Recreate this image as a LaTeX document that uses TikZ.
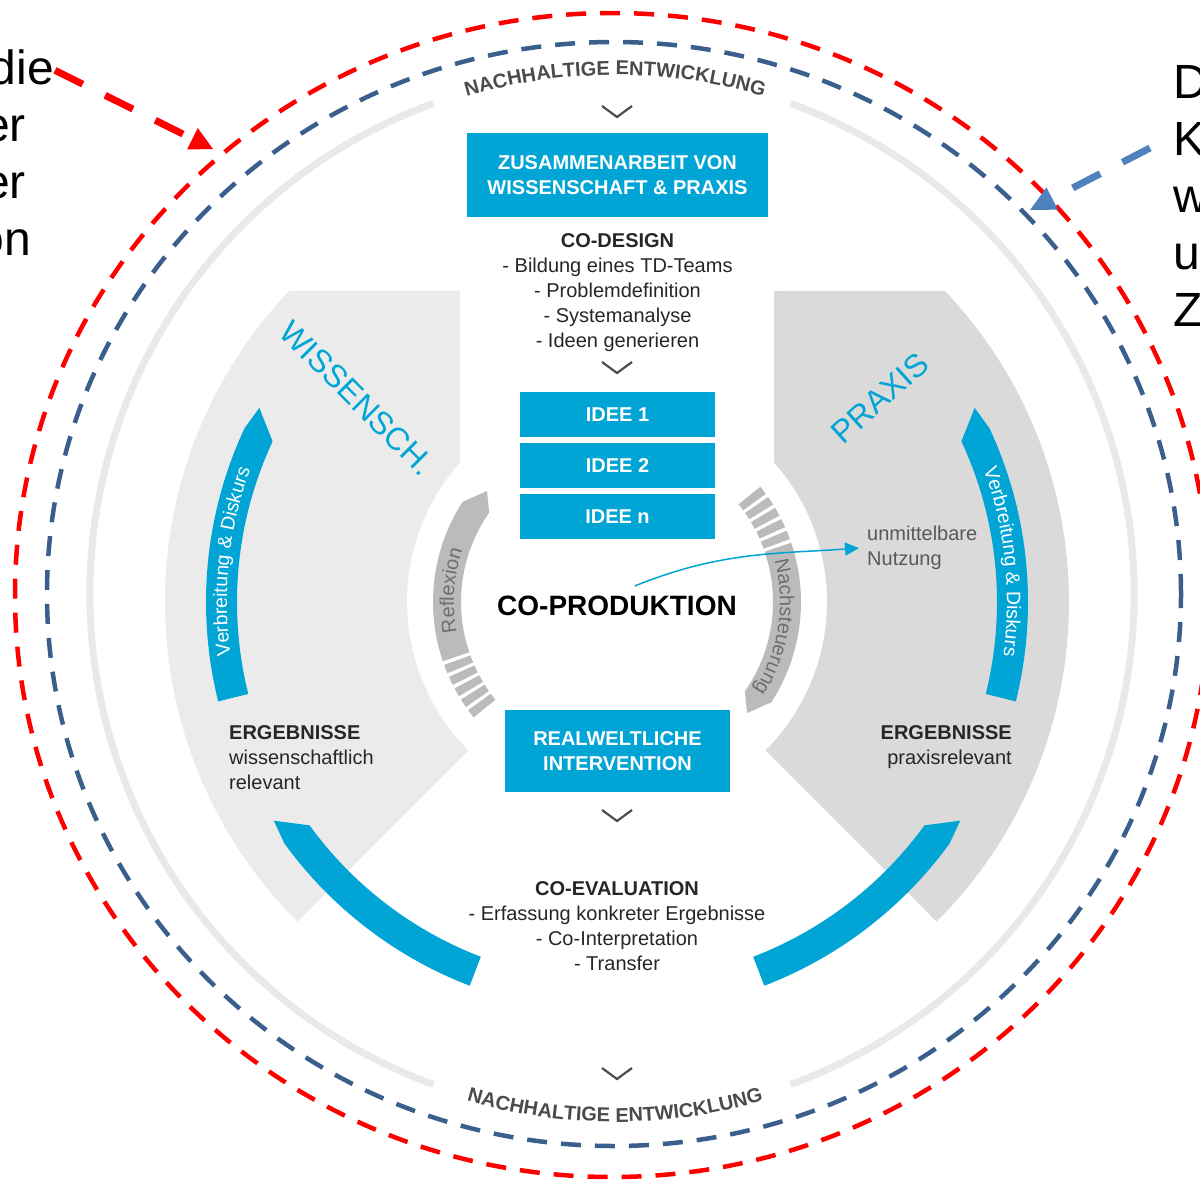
\documentclass[tikz,border=0pt]{standalone}
\usepackage{fontspec}
\setmainfont{Liberation Sans}
\usetikzlibrary{arrows.meta,calc,positioning,decorations.text}

\definecolor{tdblue}{HTML}{00A5D6}
\definecolor{lightreg}{HTML}{EBEBEB}
\definecolor{darkreg}{HTML}{DADADA}
\definecolor{ringgray}{HTML}{E9E9E9}
\definecolor{loopgray}{HTML}{BBBBBB}
\definecolor{loopink}{HTML}{6E6E6E}
\definecolor{txtgray}{HTML}{4B4B4B}
\definecolor{dashred}{HTML}{FF0000}
\definecolor{dashblue}{HTML}{3A5F8C}
\definecolor{pointblue}{HTML}{4F81BD}

\newcommand\setfs[2]{\fontsize{#1}{#2}\selectfont}
% blue band on the ring: start angle, base angle, tip angle
\newcommand\flowarc[3]{\fill[tdblue] (#1:411) arc[start angle=#1, end angle=#2, radius=411]
  -- (#3:407) -- (#2:380) arc[start angle=#2, end angle=#1, radius=380] -- cycle;}
% small grey loop arrow with striped tail
\newcommand\loopbar[1]{%
  \begin{scope}[rotate=#1]
    \fill[loopgray] (198.8:156) arc[start angle=198.8, end angle=145, radius=156]
      -- (139.5:171) -- (147:184) arc[start angle=147, end angle=198.8, radius=184] -- cycle;
    \foreach \a in {200,204,208,212,216}
      \fill[loopgray] (\a:156) arc[start angle=\a, delta angle=2.8, radius=156]
        -- ({\a+2.8}:184) arc[start angle={\a+2.8}, delta angle=-2.8, radius=184] -- cycle;
  \end{scope}}

\begin{document}
\begin{tikzpicture}[x=1pt, y=1pt,
    box/.style={fill=tdblue, text=white, font=\bfseries\setfs{20}{25}, align=center, inner sep=0, outer sep=0},
    ideabox/.style={box, minimum width=195, minimum height=45},
    plain/.style={inner sep=0, text=black!85, font=\setfs{20}{25}},
    side/.style={inner sep=0, font=\setfs{48}{57}},
    chevron/.style={draw=black!70, line width=2.2},
    ringtext/.style={decorate, decoration={text along path, text align=center, text={#1}}}]
\useasboundingbox (0,0) rectangle (1200,-1181);

% rings
\draw[ringgray, line width=7] ($(612,-594)+(-70:522)$) arc[start angle=-70, end angle=70, radius=522];
\draw[ringgray, line width=7] ($(612,-594)+(110:522)$) arc[start angle=110, end angle=250, radius=522];
\draw[dashblue, line width=4.5, dash pattern=on 20pt off 14pt] (614,-594) ellipse[x radius=567, y radius=552];
\draw[dashred, line width=4.5, dash pattern=on 20pt off 14pt] (612,-595) ellipse[x radius=597, y radius=582];

\path[ringtext={|\setfs{20}{20}\bfseries\color{txtgray}|NACHHALTIGE ENTWICKLUNG}]
  ($(615,-598)+(110:523)$) arc[start angle=110, end angle=70, radius=523];
\path[ringtext={|\setfs{20}{20}\bfseries\color{txtgray}|NACHHALTIGE ENTWICKLUNG}]
  ($(615,-598)+(250:524)$) arc[start angle=250, end angle=290, radius=524];

\begin{scope}[shift={(617,-602)}]
  \coordinate (ctr) at (0,0);
  \fill[lightreg] (136.5:452) -- (-157,311) -- (-157,139.5) arc[start angle=138.4, end angle=225, radius=210]
    -- (225:452) arc[start angle=225, end angle=136.5, radius=452] -- cycle;
  \fill[darkreg] (43.5:452) -- (157,311) -- (157,139.5) arc[start angle=41.6, end angle=-45, radius=210]
    -- (-45:452) arc[start angle=-45, end angle=43.5, radius=452] -- cycle;
  \flowarc{194}{155}{151.5}
  \flowarc{-14}{25}{28.5}
  \flowarc{249}{216}{212.5}
  \flowarc{291}{324}{327.5}
  \loopbar{0}
  \loopbar{180}
  \path[ringtext={|\setfs{19.5}{20}\color{white}|Verbreitung {\&} Diskurs}]
    (194:390) arc[start angle=194, end angle=154, radius=390];
  \path[ringtext={|\setfs{19.5}{20}\color{white}|Verbreitung {\&} Diskurs}]
    (26:390) arc[start angle=26, end angle=-14, radius=390];
  \path[ringtext={|\setfs{20}{20}\color{loopink}|Reflexion}]
    (201:163) arc[start angle=201, end angle=151, radius=163];
  \path[ringtext={|\setfs{20}{20}\color{loopink}|Nachsteuerung}]
    (21:163) arc[start angle=21, end angle=-39, radius=163];
\end{scope}

\node[rotate=-45, text=tdblue, font=\setfs{32}{32}] (wiss) at (357,-398) {WISSENSCH.};
\node[rotate=42, text=tdblue, font=\setfs{32}{32}] (prax) at (880,-398) {PRAXIS};

\node[box, minimum width=301, minimum height=84] (collab) at (617.5,-175) {ZUSAMMENARBEIT VON\\WISSENSCHAFT \& PRAXIS};
\node[plain, align=center, below=16pt of collab] (codesign) {\textbf{CO-DESIGN}\\- Bildung eines TD-Teams\\- Problemdefinition\\- Systemanalyse\\- Ideen generieren};

\node[ideabox] (idea1) at (617.5,-414.5) {IDEE 1};
\node[ideabox, below=6pt of idea1] (idea2) {IDEE 2};
\node[ideabox, below=6pt of idea2] (idean) {IDEE n};

\node[inner sep=0, font=\bfseries\setfs{28}{28}] (coprod) at (617,-606) {CO-PRODUKTION};
\node[plain, text=black!65, align=left, anchor=north west] (nutzung) at (867,-525.5) {unmittelbare\\Nutzung};
\draw[tdblue, line width=1.5, -{Triangle[length=14pt,width=13pt]}, shorten >=8pt]
  ([xshift=18pt,yshift=10pt]coprod.north) to[out=22, in=184] (nutzung.west);

\node[box, minimum width=225, minimum height=82] (interv) at (617.5,-751) {REALWELTLICHE\\INTERVENTION};

\node[plain, align=left, anchor=north west] (ergw) at (229,-725.5) {\textbf{ERGEBNISSE}\\wissenschaftlich\\relevant};
\node[plain, align=right, anchor=north east] (ergp) at (1012,-725.5) {\textbf{ERGEBNISSE}\\praxisrelevant};
\node[plain, align=center, anchor=north] (coeval) at (617,-881.5) {\textbf{CO-EVALUATION}\\- Erfassung konkreter Ergebnisse\\- Co-Interpretation\\- Transfer};

\foreach \y in {106,362,810,1068}
  \draw[chevron] (602,-\y) -- (617,-\y-11) -- (632,-\y);

% cut-off side notes
\node[side, anchor=base east] (die) at (54,-84) {die};
\node[side, anchor=base east] (er1) at (26,-141) {er};
\node[side, anchor=base east] (er2) at (26,-198) {er};
\node[side, anchor=base east] (on) at (31,-255) {on};
\node[side, align=left, anchor=north west] (rside) at (1173,-65.6) {D\\K\\w\\u\\Z};

\coordinate (redhit) at (213,-149);
\coordinate (bluehit) at (1030,-210);
\draw[dashred, line width=7, dash pattern=on 31pt off 25pt, -{Triangle[length=23pt,width=24pt,line width=0pt]}]
  ([xshift=1pt,yshift=-3.5pt]die.east) -- (redhit);
\draw[pointblue, line width=7, dash pattern=on 31pt off 25pt, -{Triangle[length=25pt,width=25pt,line width=0pt]}]
  ([xshift=-23pt,yshift=-82.4pt]rside.north west) -- (bluehit);
\end{tikzpicture}
\end{document}
